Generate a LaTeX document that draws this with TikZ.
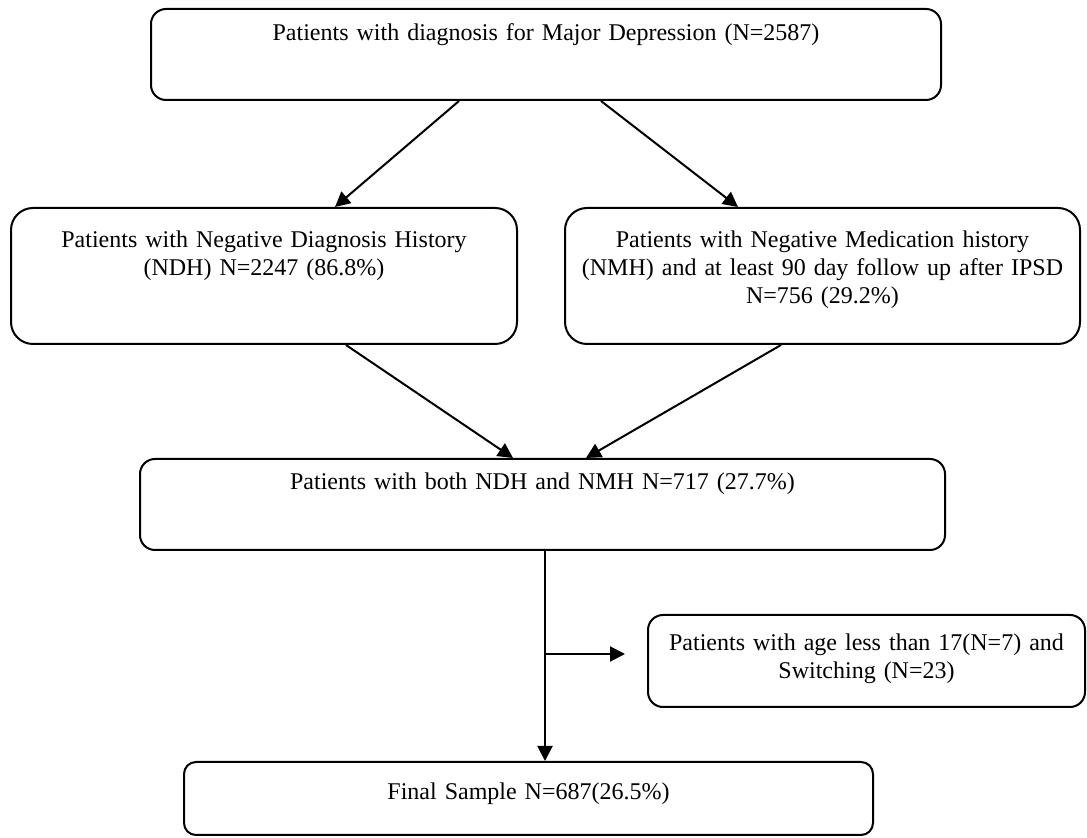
\documentclass[tikz,border=0pt]{standalone}
\usepackage{fontspec}
\setmainfont{Liberation Serif}
\usepackage{tikz}
\usetikzlibrary{
  arrows.meta,
  calc,
}

\begin{document}
\begin{tikzpicture}[
  x=0.5pt, y=-0.5pt,
  >={Triangle[length=7.5pt, width=7.5pt]},
  blk/.style={draw, line width=1pt, inner sep=0pt, align=center,
              anchor=north west, font=\fontsize{12pt}{14pt}\selectfont},
  flow/.style={->, line width=1pt},
]
  \useasboundingbox (0,0) rectangle (1087,838);

  % Whole cohort on top
  \node[blk, rounded corners=7.5pt, text width=395pt,
        text height=16pt, text depth=29.5pt]
       (all) at (150,8)
       {Patients with diagnosis for Major Depression (N=2587)};

  % The two history filters side by side
  \node[blk, rounded corners=11pt, text width=253pt,
        text height=20pt, text depth=48pt]
       (ndh) at (10,207)
       {Patients with Negative Diagnosis History\\(NDH) N=2247 (86.8\%)};
  \node[blk, rounded corners=11pt, text width=257.5pt,
        text height=20pt, text depth=48pt]
       (nmh) at (564,207)
       {Patients with Negative Medication history\\(NMH) and at least 90 day follow up after IPSD\\N=756 (29.2\%)};

  % Intersection
  \node[blk, rounded corners=7.5pt, text width=402.5pt,
        text height=15.5pt, text depth=30pt]
       (both) at (139,458)
       {Patients with both NDH and NMH N=717 (27.7\%)};

  % Exclusions branch off to the right
  \node[blk, rounded corners=7.5pt, text width=218.5pt,
        text height=18pt, text depth=28pt]
       (excl) at (647,614)
       {Patients with age less than 17(N=7) and\\Switching (N=23)};

  % Final sample
  \node[blk, rounded corners=6pt, text width=344.5pt,
        text height=18.5pt, text depth=18pt]
       (final) at (183,761)
       {Final Sample N=687(26.5\%)};

  % Split into the two filters
  \draw[flow] ([xshift=-43.5pt]all.south) -- ([xshift=35.5pt]ndh.north);
  \draw[flow] ([xshift=27.5pt]all.south)  -- ([xshift=-42.25pt]nmh.north);

  % Merge
  \draw[flow] ([xshift=41pt]ndh.south)    -- ([xshift=-14.75pt]both.north);
  \draw[flow] ([xshift=-20.75pt]nmh.south) -- ([xshift=21.75pt]both.north);

  % Down to the final sample, exclusions on the side
  \draw[flow] ([xshift=1.25pt]both.south) -- ([xshift=8.25pt]final.north);
  \coordinate (split)    at (544,654);
  \coordinate (splitend) at (625,654);
  \draw[flow] (split) -- (splitend);
\end{tikzpicture}
\end{document}
